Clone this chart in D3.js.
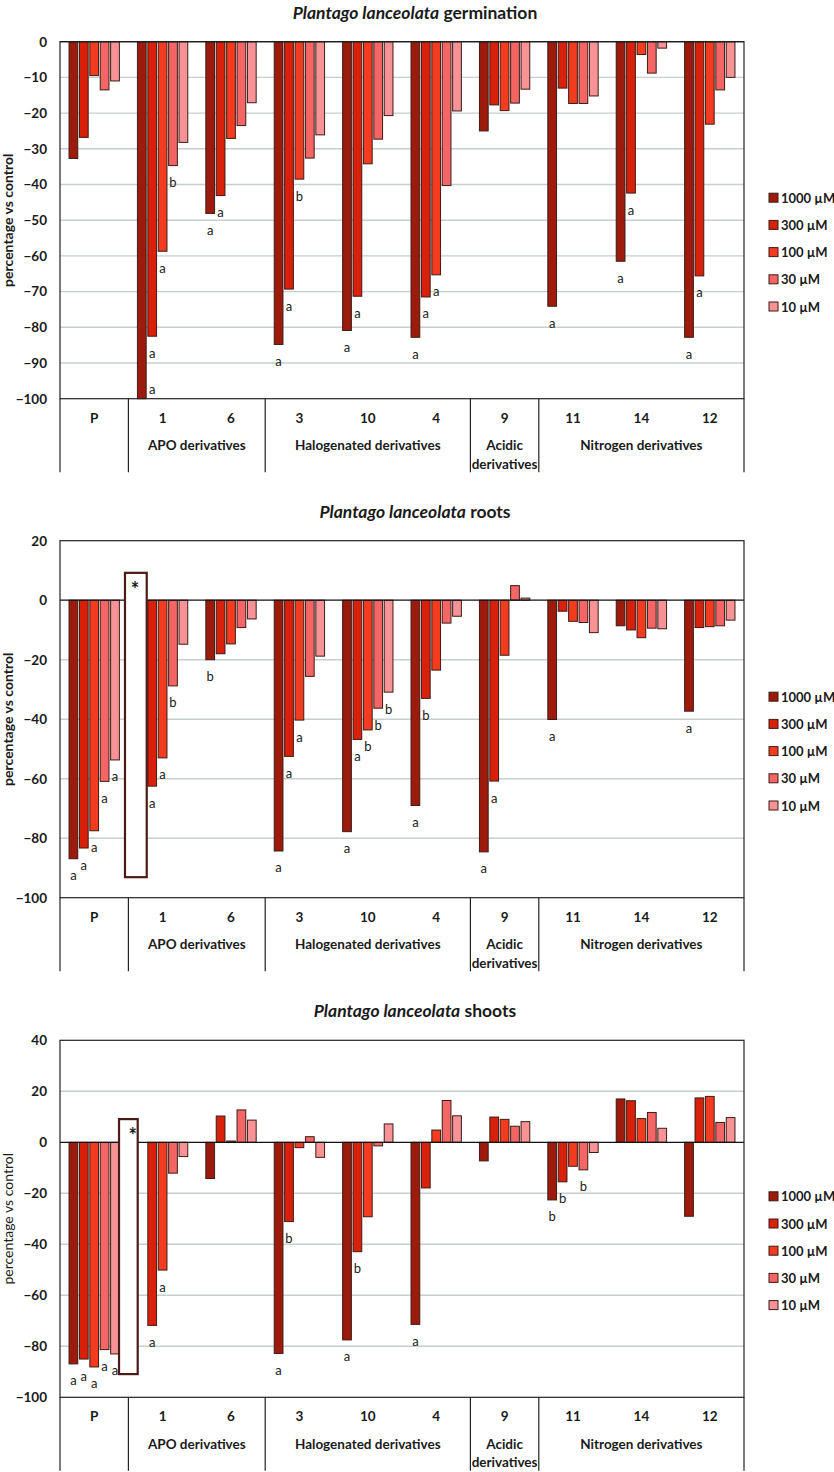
<!DOCTYPE html>
<html><head><meta charset="utf-8">
<script src="https://cdn.jsdelivr.net/npm/d3@7"></script>
<style>
body{margin:0;background:#fff;}
svg{display:block;font-family:Lato,"Open Sans",sans-serif;}
</style></head>
<body>
<svg id="c" width="834" height="1472"></svg>
<script>
const categories = ["P","1","6","3","10","4","9","11","14","12"];
const groupNames = ["", "APO derivatives", "Halogenated derivatives", "Acidic|derivatives", "Nitrogen derivatives"];
const groupSizes = [1, 2, 3, 1, 3];
const seriesNames = ["1000 µM","300 µM","100 µM","30 µM","10 µM"];

// Germination
const germ1000 = [-32.7,-100,-48.1,-84.8,-80.9,-82.8,-25.0,-74.1,-61.5,-82.8];
const germ300  = [-26.8,-82.5,-43.1,-69.3,-71.3,-71.5,-17.7,-13.0,-42.4,-65.6];
const germ100  = [-9.5,-58.7,-27.1,-38.5,-34.2,-65.3,-19.3,-17.3,-3.6,-23.1];
const germ30   = [-13.5,-34.7,-23.5,-32.6,-27.3,-40.3,-17.2,-17.3,-8.8,-13.5];
const germ10   = [-11.0,-28.2,-17.1,-26.1,-20.7,-19.4,-13.3,-15.2,-1.8,-10.0];
const germL1000 = ["","a","a","a","a","a","","a","a","a"];
const germL300  = ["","a","a","a","a","a","","","a","a"];
const germL100  = ["","a","","b","","a","","","",""];
const germL30   = ["","b","","","","","","","",""];
const germL10   = ["","","","","","","","","",""];
const germTicks = [0,-10,-20,-30,-40,-50,-60,-70,-80,-90,-100];

// Roots
const root1000 = [-86.9,null,-20.0,-84.3,-77.8,-69.0,-84.6,-40.1,-8.6,-37.3];
const root300  = [-83.3,-62.5,-18.0,-52.5,-46.8,-33.0,-60.8,-3.7,-10.0,-9.2];
const root100  = [-77.5,-53.0,-14.7,-40.3,-43.6,-23.5,-18.5,-7.1,-12.6,-8.9];
const root30   = [-60.9,-28.8,-9.2,-25.6,-36.3,-7.7,4.9,-7.5,-9.4,-8.6];
const root10   = [-53.7,-14.8,-6.3,-18.8,-30.9,-5.4,0.7,-10.9,-9.6,-6.7];
const rootL1000 = ["a","","b","a","a","a","a","a","","a"];
const rootL300  = ["a","a","","a","a","b","a","","",""];
const rootL100  = ["a","a","","a","b","","","","",""];
const rootL30   = ["a","b","","","b","","","","",""];
const rootL10   = ["a","","","","b","","","","",""];
const rootTicks = [20,0,-20,-40,-60,-80,-100];

// Shoots
const shoot1000 = [-86.9,null,-14.2,-82.8,-77.5,-71.4,-7.3,-22.6,17.0,-29.0];
const shoot300  = [-85.0,-71.8,10.3,-31.1,-42.9,-17.9,9.9,-15.5,16.3,17.4];
const shoot100  = [-88.1,-50.1,0.5,-2.1,-29.2,4.8,9.0,-9.4,9.3,18.0];
const shoot30   = [-81.3,-12.1,12.7,2.2,-1.4,16.4,6.3,-10.8,11.7,7.8];
const shoot10   = [-83.0,-5.6,8.7,-5.9,7.2,10.4,8.1,-4.0,5.5,9.7];
const shootL1000 = ["a","","","a","a","a","","b","",""];
const shootL300  = ["a","a","","b","b","","","b","",""];
const shootL100  = ["a","a","","","","","","","",""];
const shootL30   = ["a","","","","","","","b","",""];
const shootL10   = ["a","","","","","","","","",""];
const shootTicks = [40,20,0,-20,-40,-60,-80,-100];

const colors = ["#9c1b0c","#d8200a","#f23b1f","#f46565","#f79396"];

const panels = [
  {title:"germination", vals:[germ1000,germ300,germ100,germ30,germ10], labs:[germL1000,germL300,germL100,germL30,germL10], ticks:germTicks, top:41.7, boldY:true, box:null},
  {title:"roots", vals:[root1000,root300,root100,root30,root10], labs:[rootL1000,rootL300,rootL100,rootL30,rootL10], ticks:rootTicks, top:540.7, boldY:true,
    box:{cat:"1", f0:-0.05, f1:0.268, v0:9.2, v1:-93.1, star:0.096}},
  {title:"shoots", vals:[shoot1000,shoot300,shoot100,shoot30,shoot10], labs:[shootL1000,shootL300,shootL100,shootL30,shootL10], ticks:shootTicks, top:1040.3, boldY:false,
    box:{cat:"1", f0:-0.137, f1:0.136, v0:9.1, v1:-90.9, star:0.063}}
];

const svg = d3.select("#c");
const L = 60, R = 744, H = 357;
const x0 = d3.scaleBand().domain(categories).range([L, R]);
const gw = x0.bandwidth();
const x1 = d3.scaleBand().domain(d3.range(5)).range([8.2, 60.2]).paddingInner(0.16).paddingOuter(0.08);

panels.forEach(p => {
  const g = svg.append("g");
  const top = p.top, bot = top + H;
  const y = d3.scaleLinear().domain([d3.min(p.ticks), d3.max(p.ticks)]).range([bot, top]);

  // title
  const t = g.append("text").attr("x", 415).attr("y", top - 23).attr("text-anchor","middle")
    .attr("font-size", 17.5).attr("font-weight","bold").attr("fill","#1a1a1a");
  t.append("tspan").attr("font-style","italic").text("Plantago lanceolata");
  t.append("tspan").text(" " + p.title);

  // gridlines
  g.selectAll(".grid").data(p.ticks.filter(v => v !== 0 && v !== d3.max(p.ticks) && v !== d3.min(p.ticks)))
    .join("line").attr("x1", L).attr("x2", R).attr("y1", d => y(d)).attr("y2", d => y(d))
    .attr("stroke","#c6d0cc").attr("stroke-width",1.4);

  // y axis tick labels
  const ax = d3.axisLeft(y).tickValues(p.ticks).tickSize(0).tickPadding(13);
  const axg = g.append("g").attr("transform", `translate(${L},0)`).call(ax);
  axg.select(".domain").remove();
  axg.selectAll("text").attr("font-size", 13.5).attr("font-weight","bold").attr("fill","#1a1a1a")
    .attr("font-family","Lato,'Open Sans',sans-serif");

  // y title
  g.append("text").attr("transform", `translate(13,${(top+bot)/2}) rotate(-90)`).attr("text-anchor","middle")
    .attr("font-size", 14).attr("font-weight", p.boldY ? "bold" : "normal").attr("fill","#1a1a1a")
    .text("percentage vs control");

  // bars
  p.vals.forEach((arr, s) => {
    g.selectAll(null).data(categories.map((c,i)=>({c, v:arr[i]})).filter(d => d.v !== null))
      .join("rect")
      .attr("x", d => x0(d.c) + x1(s))
      .attr("width", x1.bandwidth())
      .attr("y", d => Math.min(y(d.v), y(0)))
      .attr("height", d => Math.abs(y(d.v) - y(0)))
      .attr("fill", colors[s]).attr("stroke","#3a1d17").attr("stroke-width",1);
  });

  // zero line
  g.append("line").attr("x1", L).attr("x2", R).attr("y1", y(0)).attr("y2", y(0)).attr("stroke","#111").attr("stroke-width",1.2);

  // significance letters
  p.labs.forEach((arr, s) => {
    categories.forEach((c, i) => {
      const txt = arr[i]; const v = p.vals[s][i];
      if (!txt || v === null) return;
      let cx = x0(c) + x1(s) + x1.bandwidth()/2;
      let by = y(v) + 21.5;
      if (by > bot - 3) { by = bot - 4.5; cx += x1.step(); }
      g.append("text").attr("x", cx).attr("y", by).attr("text-anchor","middle")
        .attr("font-size", 13).attr("fill","#1a1a1a").text(txt);
    });
  });

  // box annotation
  if (p.box) {
    const b = p.box;
    const bx0 = x0(b.cat) + b.f0*gw, bx1 = x0(b.cat) + b.f1*gw;
    g.append("rect").attr("x", bx0).attr("y", y(b.v0)).attr("width", bx1 - bx0).attr("height", y(b.v1) - y(b.v0))
      .attr("fill","#fff").attr("stroke","#4a1c14").attr("stroke-width",2.2);
    g.append("text").attr("x", x0(b.cat) + b.star*gw).attr("y", y(b.v0) + 24).attr("text-anchor","middle")
      .attr("font-size", 20).attr("font-weight","bold").attr("fill","#1a1a1a").text("*");
  }

  // plot frame
  g.append("rect").attr("x", L).attr("y", top).attr("width", R - L).attr("height", H)
    .attr("fill","none").attr("stroke","#222").attr("stroke-width",1.2);

  // category table
  const tblBot = bot + 73.5;
  let idx = 0;
  const bounds = [L];
  groupSizes.forEach(n => { idx += n; bounds.push(x0(categories[idx-1]) + gw); });
  g.selectAll(null).data(bounds).join("line")
    .attr("x1", d => d).attr("x2", d => d).attr("y1", bot).attr("y2", tblBot)
    .attr("stroke","#222").attr("stroke-width",1.2);
  g.selectAll(null).data(categories).join("text")
    .attr("x", d => x0(d) + gw/2).attr("y", bot + 24).attr("text-anchor","middle")
    .attr("font-size", 13.5).attr("font-weight","bold").attr("fill","#1a1a1a").text(d => d);
  groupNames.forEach((nm, k) => {
    if (!nm) return;
    const cx = (bounds[k] + bounds[k+1]) / 2;
    nm.split("|").forEach((line, j) => {
      g.append("text").attr("x", cx).attr("y", bot + 51.5 + j*18.5).attr("text-anchor","middle")
        .attr("font-size", 13.5).attr("font-weight","bold").attr("fill","#1a1a1a").text(line);
    });
  });

  // legend
  const lg = g.append("g").attr("transform", `translate(769,${top + 156})`);
  seriesNames.forEach((nm, s) => {
    const r = lg.append("g").attr("transform", `translate(0,${s*27.2})`);
    r.append("rect").attr("x", 0).attr("y", -4.5).attr("width", 9).attr("height", 9)
      .attr("fill", colors[s]).attr("stroke","#3a1d17").attr("stroke-width",1);
    r.append("text").attr("x", 12).attr("y", 5).attr("font-size", 13).attr("font-weight","bold")
      .attr("fill","#1a1a1a").text(nm);
  });
});
</script>
</body></html>
